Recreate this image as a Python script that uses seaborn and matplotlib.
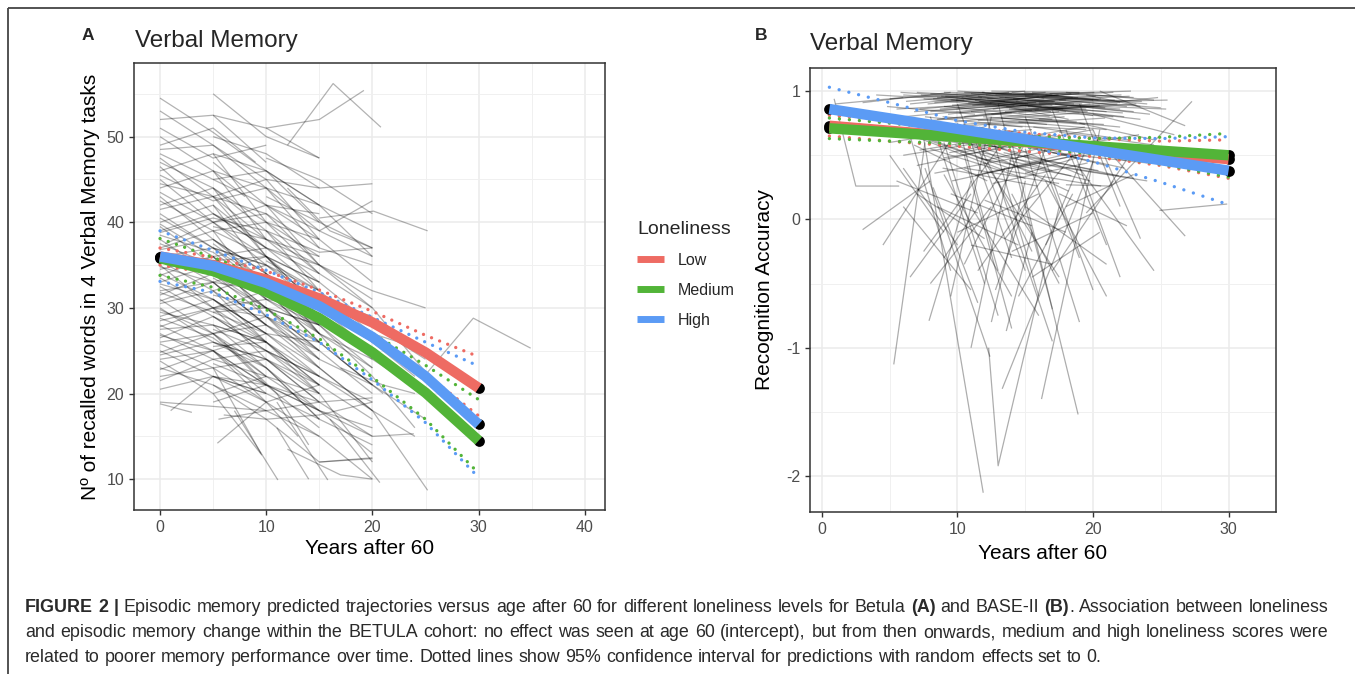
import matplotlib
matplotlib.use("Agg")
import matplotlib.pyplot as plt
from matplotlib.lines import Line2D
from matplotlib.ticker import MultipleLocator
import pandas as pd
import seaborn as sns

# ---------------- Panel A: Betula, individual trajectories (years after 60, words recalled)
betula_paths = [
    [(0, 54.5), (5, 50.5), (10, 46)], [(0, 52), (5, 52.5), (10, 47)], [(0, 49), (5, 51), (9, 47)],
    [(0, 48), (5, 45), (10, 42), (15, 38)], [(0, 47), (5, 44), (10, 36)], [(0, 46), (5, 48), (10, 40)],
    [(0, 45), (5, 40), (10, 42), (15, 35)], [(0, 44), (5, 46), (10, 38)], [(0, 43), (5, 38), (10, 33)],
    [(0, 42), (5, 44), (10, 39), (15, 32)], [(0, 41), (5, 37), (10, 35)], [(0, 40), (5, 42), (10, 34)],
    [(0, 39.5), (5, 35), (10, 30), (15, 26)], [(0, 39), (5, 41), (10, 37)], [(0, 38), (5, 34), (10, 36), (15, 30)],
    [(0, 37), (5, 39), (10, 31)], [(0, 36.5), (5, 33), (10, 28)], [(0, 36), (5, 37), (10, 32), (15, 28)],
    [(0, 35), (5, 30), (10, 32)], [(0, 34.5), (5, 36), (10, 29), (15, 24)], [(0, 34), (5, 31), (10, 27)],
    [(0, 33), (5, 35), (10, 30)], [(0, 32.5), (5, 29), (10, 25), (15, 22)], [(0, 32), (5, 33), (10, 28)],
    [(0, 31), (5, 27), (10, 29)], [(0, 30.5), (5, 32), (10, 26), (15, 20)], [(0, 30), (5, 26), (10, 24)],
    [(0, 29), (5, 31), (10, 27)], [(0, 28), (5, 25), (10, 21)], [(0, 27.5), (5, 28), (10, 23), (15, 17)],
    [(0, 27), (5, 24), (10, 25)], [(0, 26), (5, 27), (10, 22)], [(0, 25), (5, 22), (10, 19)],
    [(0, 24), (5, 25), (10, 20)], [(0, 23), (5, 21), (10, 17)], [(0, 22), (5, 23), (9.5, 13)],
    [(0, 21.5), (5, 24)], [(0, 19), (5, 18.5), (10, 18)], [(1, 18), (5, 22), (10, 20)],
    [(0, 45.5), (5, 42.5), (10, 44), (15, 37)], [(0, 50), (5, 46), (8, 43)], [(0.5, 37.5), (5, 40), (10, 35), (15, 30)],
    [(0, 35.5), (5, 32), (10, 34), (15, 27)], [(0, 33.5), (5, 30), (10, 31)], [(0, 31.5), (5, 34), (10, 32), (15, 26)],
    [(0, 29.5), (5, 28), (10, 26)], [(0, 28.5), (5, 30), (10, 24), (15, 21)], [(0, 26.5), (5, 29), (10, 26)],
    [(0, 24.5), (5, 26), (10, 23)], [(0, 40.5), (5, 37), (10, 33), (15, 31)],
    [(0, 53), (5, 49), (10, 44)], [(0, 51), (5, 47.5), (10, 49)], [(0, 47.5), (5, 43), (10, 41), (15, 35)],
    [(0, 46.5), (5, 41), (10, 37)], [(0, 44.5), (5, 43), (10, 36), (15, 33)], [(0, 43.5), (5, 40), (10, 41)],
    [(0, 42.5), (5, 39), (10, 36), (15, 29)], [(0, 41.5), (5, 43), (10, 38)], [(0, 39.8), (5, 36), (10, 37), (15, 32)],
    [(0, 38.5), (5, 36.5), (10, 32)], [(0, 37.5), (5, 35), (10, 33), (15, 27)], [(0, 36.8), (5, 38), (10, 34)],
    [(0, 35.8), (5, 34), (10, 30), (15, 25)], [(0, 34.8), (5, 33), (10, 35)], [(0, 33.8), (5, 36), (10, 31), (15, 28)],
    [(0, 32.8), (5, 31), (10, 26)], [(0, 31.8), (5, 29.5), (10, 30), (15, 24)], [(0, 30.8), (5, 33), (10, 28)],
    [(0, 29.8), (5, 27), (10, 28), (15, 23)], [(0, 28.8), (5, 26.5), (10, 22)], [(0, 27.8), (5, 30), (10, 26)],
    [(0, 26.8), (5, 25), (10, 27)], [(0, 25.8), (5, 23), (10, 24), (15, 19)], [(0, 24.8), (5, 27), (10, 21)],
    [(0, 23.8), (5, 20), (10, 22)], [(0, 22.8), (5, 25), (10, 19)], [(0, 20.5), (5, 22), (10, 21)],
    [(0, 18.8), (3, 17.8)], [(0, 48.5), (5, 49), (10, 45)], [(0, 38.8), (5, 40.5), (10, 39), (15, 34)],
    [(5, 55), (10, 50), (15, 47.5)], [(5, 52.5), (10, 51), (15, 47.5)], [(5, 50), (10, 48), (15, 44)],
    [(5, 48), (10, 46), (15, 40)], [(5, 46), (10, 44), (15, 39), (20, 36)], [(5, 44), (10, 40), (15, 36)],
    [(5, 43), (10, 45), (15, 38)], [(5, 41), (10, 38), (15, 33)], [(5, 40), (10, 36), (15, 31), (20, 27)],
    [(5, 39), (10, 40), (15, 34)], [(5, 38), (10, 34), (15, 29)], [(5, 37), (10, 35), (15, 32)],
    [(5, 36), (10, 31), (15, 27)], [(5, 35), (10, 33), (15, 28), (20, 23)], [(5, 34), (10, 29), (15, 25)],
    [(5, 33), (10, 32), (15, 26)], [(5, 32), (10, 28), (15, 24)], [(5, 31), (10, 27), (15, 22), (20, 18)],
    [(5, 30), (10, 29), (15, 23)], [(5, 29), (10, 25), (15, 20)], [(5, 28), (10, 26), (15, 21)],
    [(5, 27), (10, 23), (15, 18)], [(5, 26), (10, 24), (15, 19), (20, 15)], [(5, 25), (10, 21), (15, 16)],
    [(5, 24), (10, 22), (15, 20)], [(5, 23), (10, 19), (13, 15)], [(5, 22), (10, 20), (15, 17)],
    [(5.5, 17), (10, 18), (15, 19)], [(5.4, 14.2), (10, 19), (15, 21)], [(6, 17.5), (10, 17), (15, 17.5), (20, 19)],
    [(5, 47), (10, 42), (15, 41)], [(5, 45), (10, 46), (15, 42)], [(5, 42), (10, 37), (15, 35), (20, 30)],
    [(5, 39.5), (10, 38), (15, 36)], [(5, 37.5), (10, 33), (15, 30)], [(5, 35.5), (10, 36), (15, 30), (20, 26)],
    [(5, 33.5), (10, 30), (15, 28)], [(5, 31.5), (10, 30), (15, 25)], [(5, 29.5), (10, 27), (15, 26), (20, 21)],
    [(5, 27.5), (10, 25), (15, 22)], [(5, 25.5), (10, 26), (15, 21)], [(5, 23.5), (10, 21), (15, 18), (20, 16)],
    [(5, 21), (10, 18), (15, 15)], [(5, 19), (10, 21), (15, 18)], [(6, 26), (11, 20), (14, 14)],
    [(10, 51), (15, 52), (19.2, 55.4)], [(12, 49), (16.3, 56.2), (20.8, 51.1)], [(10, 47.5), (15, 45), (20, 41)],
    [(10, 45), (15, 44), (20, 44.5)], [(10, 43), (15, 40), (20, 37)], [(10, 42), (15, 39), (20, 42.5)],
    [(10, 40), (15, 38), (20, 33)], [(10, 39), (15, 36.5), (20, 37)], [(10, 37), (15, 34), (20, 30)],
    [(10, 36), (15, 33), (20, 28), (25, 24)], [(10, 35), (15, 31), (20, 29)], [(10, 34), (15, 30), (20, 25)],
    [(10, 33), (15, 29), (20, 24)], [(10, 30), (15, 28), (20, 22)], [(10, 28), (15, 25), (20, 20)],
    [(10, 27), (15, 23), (20, 18), (24, 15)], [(10, 25), (15, 21), (20, 17)], [(10, 24), (15, 20), (20, 12)],
    [(10, 22), (15, 18), (20, 13)], [(10, 21), (15, 19), (20, 19.5)], [(10, 19), (15, 15), (20, 10)],
    [(10, 17), (15, 12), (20, 12.5)], [(15, 12), (20, 12.4)], [(12, 13.5), (17, 10.5), (20, 10)],
    [(10, 46), (15, 42), (20, 39)], [(10, 44), (15, 42), (20, 36)], [(10, 41), (15, 37), (20, 35)],
    [(10, 38), (15, 35), (20, 31)], [(10, 35.5), (15, 32), (20, 27)], [(10, 32), (15, 27), (20, 23)],
    [(10, 29), (15, 26), (20, 21)], [(10, 26), (15, 22), (20, 19)], [(10, 23), (15, 17), (20, 14)],
    [(10, 31), (15, 30), (20, 26), (24, 22)], [(12, 44), (16, 39), (20, 37)], [(13, 30), (17, 24), (21, 20)],
    [(11, 16), (14, 10)], [(15, 40.5), (20.1, 41.3), (25.2, 39)], [(15, 35), (20, 32), (25, 30)],
    [(15, 31), (20, 27), (25, 25)], [(15, 27), (20, 24), (25, 20)], [(15, 24), (20, 21), (25, 17)],
    [(15, 23), (20, 18), (25.2, 8.7)], [(20, 30), (25, 22.5)], [(25.2, 22.5), (29.5, 28.8), (34.9, 25.3)],
    [(20, 22), (24, 16)], [(15, 18), (20, 15), (23.9, 15.3)], [(17, 23), (21, 21), (24, 20)],
    [(7, 18), (11.1, 9.9)], [(11, 19), (15.8, 9.9)], [(16, 17), (20.7, 9.6)], [(5, 20), (9.6, 12.8)],
]

years_a = [0, 5, 10, 15, 20, 25, 30]
low_a = [36.0, 35.0, 33.3, 31.1, 28.3, 24.8, 20.65]
medium_a = [35.8, 34.3, 31.9, 28.8, 24.8, 20.1, 14.5]
high_a = [36.0, 34.9, 32.9, 30.2, 26.6, 22.0, 16.4]
low_a_upper = [37.0, 35.9, 34.3, 32.1, 29.6, 26.8, 24.3]
low_a_lower = [35.0, 34.0, 32.2, 29.8, 26.5, 22.3, 17.4]
medium_a_upper = [38.1, 35.9, 33.4, 30.4, 27.0, 23.3, 19.3]
medium_a_lower = [33.8, 32.4, 29.8, 26.4, 21.9, 17.0, 10.7]
high_a_upper = [39.0, 36.7, 34.4, 31.8, 28.9, 26.0, 23.2]
high_a_lower = [33.1, 31.8, 29.2, 26.0, 21.6, 16.6, 10.2]

# ---------------- Panel B: BASE-II, individual trajectories (years after 60, recognition accuracy)
base2_paths = [
    [(6.0, 0.97), (13.5, 0.92)], [(6.5, 0.90), (14.0, 0.98)], [(7.0, 0.99), (15.0, 0.94)], [(7.2, 0.86), (14.5, 0.93)],
    [(7.5, 0.94), (15.5, 0.85)], [(8.0, 0.98), (16.0, 0.96)], [(8.0, 0.84), (15.8, 0.91)], [(8.3, 0.91), (16.5, 0.99)],
    [(8.5, 0.78), (16.0, 0.86)], [(8.8, 0.96), (17.0, 0.89)], [(9.0, 0.88), (16.8, 0.80)], [(9.0, 0.99), (17.5, 0.97)],
    [(9.3, 0.82), (17.2, 0.92)], [(9.5, 0.93), (18.0, 0.84)], [(9.8, 0.76), (17.5, 0.84)], [(10.0, 1.00), (18.5, 0.95)],
    [(10.0, 0.87), (18.0, 0.93)], [(10.3, 0.95), (18.2, 0.78)], [(10.5, 0.80), (18.5, 0.88)], [(10.8, 0.91), (19.0, 0.98)],
    [(11.0, 0.98), (19.2, 0.90)], [(11.0, 0.84), (18.8, 0.76)], [(11.3, 0.93), (19.5, 0.86)], [(11.5, 0.77), (19.0, 0.83)],
    [(11.8, 0.99), (20.0, 0.93)], [(12.0, 0.88), (20.2, 0.96)], [(12.2, 0.94), (20.0, 0.81)], [(12.5, 0.82), (20.5, 0.89)],
    [(12.8, 0.97), (21.0, 0.92)], [(13.0, 0.90), (21.0, 0.84)], [(13.2, 0.79), (20.8, 0.74)], [(13.5, 0.95), (21.5, 0.99)],
    [(13.8, 0.86), (21.5, 0.80)], [(14.0, 0.99), (22.0, 0.91)], [(14.3, 0.92), (22.0, 0.86)], [(14.5, 0.83), (21.8, 0.90)],
    [(15.0, 0.96), (22.5, 0.88)], [(15.2, 0.88), (22.3, 0.80)], [(15.5, 0.99), (23.0, 0.95)], [(16.0, 0.91), (23.0, 0.84)],
    [(16.5, 0.97), (24.0, 0.90)], [(17.0, 0.86), (23.5, 0.78)], [(17.5, 0.93), (25.0, 0.87)], [(18.0, 0.99), (24.5, 0.93)],
    [(5.0, 0.94), (12.0, 0.99)], [(5.5, 0.86), (12.5, 0.90)], [(4.0, 0.97), (10.5, 0.93)], [(3.0, 0.91), (9.5, 0.99)],
    [(6.0, 0.80), (13.0, 0.87)], [(7.0, 0.76), (14.0, 0.83)], [(9.5, 0.72), (17.0, 0.78)], [(12.0, 0.74), (19.5, 0.70)],
    [(14.5, 0.76), (21.0, 0.70)], [(8.5, 0.95), (15.0, 1.00)], [(10.5, 0.99), (17.0, 0.97)], [(12.5, 1.00), (19.0, 0.99)],
    [(11.5, 0.96), (17.8, 0.86)], [(13.5, 0.84), (19.8, 0.90)], [(16.0, 0.78), (22.0, 0.72)], [(20.5, 1.00), (26.8, 0.73)],
    [(16.0, 0.90), (25.4, 0.86)], [(0.9, 0.94), (2.5, 0.26), (5.7, 0.26)], [(1.0, 0.90), (6.0, 0.95)],
    [(6.2, 0.92), (13.8, 0.99)], [(6.8, 0.84), (14.2, 0.89)], [(7.3, 0.97), (15.2, 0.90)], [(7.8, 0.90), (15.6, 0.97)],
    [(8.2, 0.94), (16.2, 0.88)], [(8.7, 0.86), (16.4, 0.94)], [(9.1, 0.96), (17.1, 0.92)], [(9.6, 0.89), (17.4, 0.97)],
    [(10.1, 0.83), (18.1, 0.88)], [(10.6, 0.96), (18.6, 0.90)], [(11.1, 0.89), (18.9, 0.95)], [(11.6, 0.92), (19.6, 0.84)],
    [(12.1, 0.97), (20.1, 0.99)], [(12.6, 0.86), (20.6, 0.94)], [(13.1, 0.95), (20.9, 0.87)], [(13.6, 0.88), (21.6, 0.93)],
    [(14.1, 0.94), (22.1, 0.97)], [(14.6, 0.89), (22.2, 0.83)], [(15.1, 0.92), (22.7, 0.96)], [(15.7, 0.85), (23.2, 0.90)],
    [(16.2, 0.95), (23.6, 0.92)], [(17.2, 0.90), (24.2, 0.82)], [(8.9, 0.80), (16.6, 0.74)], [(10.4, 0.74), (17.9, 0.80)],
    [(11.9, 0.80), (19.4, 0.74)], [(13.4, 0.74), (20.9, 0.79)], [(7.6, 0.80), (14.8, 0.72)], [(9.9, 0.93), (16.9, 0.84)],
    [(12.4, 0.91), (18.4, 0.98)], [(14.9, 0.99), (20.4, 0.93)], [(16.8, 0.98), (22.8, 1.00)], [(18.5, 0.88), (24.8, 0.95)],
    [(5.8, 0.99), (11.8, 0.95)], [(4.8, 0.88), (11.3, 0.82)], [(19.5, 0.97), (23.5, 0.88)], [(21.0, 0.92), (25.5, 0.93)],
    [(5.0, 0.60), (12.0, 0.72)], [(5.5, 0.72), (12.5, 0.45)], [(6.0, 0.50), (13.0, 0.62)], [(6.5, 0.66), (13.5, 0.38)],
    [(7.0, 0.42), (14.0, 0.58)], [(7.5, 0.70), (14.5, 0.52)], [(8.0, 0.55), (15.0, 0.32)], [(8.3, 0.36), (15.3, 0.50)],
    [(8.7, 0.64), (15.5, 0.70)], [(9.0, 0.48), (16.0, 0.60)], [(9.3, 0.70), (16.2, 0.44)], [(9.6, 0.30), (16.5, 0.46)],
    [(10.0, 0.62), (17.0, 0.38)], [(10.2, 0.52), (17.3, 0.66)], [(10.5, 0.40), (17.5, 0.28)], [(10.8, 0.68), (18.0, 0.58)],
    [(11.0, 0.58), (18.2, 0.22)], [(11.3, 0.34), (18.5, 0.52)], [(11.6, 0.72), (18.8, 0.48)], [(12.0, 0.46), (19.0, 0.62)],
    [(12.3, 0.64), (19.3, 0.34)], [(12.6, 0.28), (19.6, 0.44)], [(13.0, 0.56), (20.0, 0.70)], [(13.3, 0.70), (20.3, 0.56)],
    [(13.6, 0.38), (20.6, 0.26)], [(14.0, 0.60), (21.0, 0.42)], [(14.3, 0.48), (21.3, 0.64)], [(14.6, 0.66), (21.6, 0.52)],
    [(15.0, 0.36), (22.0, 0.58)], [(15.3, 0.56), (22.3, 0.40)], [(15.6, 0.72), (22.6, 0.62)], [(16.0, 0.44), (23.0, 0.32)],
    [(16.5, 0.62), (23.5, 0.50)], [(17.0, 0.52), (24.0, 0.44)], [(17.5, 0.68), (24.5, 0.58)], [(18.0, 0.40), (24.0, 0.30)],
    [(7.8, 0.62), (13.8, 0.40)], [(9.8, 0.58), (15.8, 0.36)], [(11.8, 0.52), (17.8, 0.40)], [(13.8, 0.46), (19.8, 0.30)],
    [(6.8, 0.58), (12.2, 0.30)], [(18.0, 0.27), (21.2, 0.26), (23.0, 0.55)], [(19.5, 0.05), (27.3, 0.92)],
    [(21.0, 0.55), (26.8, -0.13)], [(24.9, 0.07), (29.9, 0.12)], [(19.0, 0.75), (24.5, 0.62)], [(20.0, 0.82), (26.0, 0.66)],
    [(7.2, 0.54), (14.2, 0.66)], [(8.4, 0.70), (15.4, 0.58)], [(9.4, 0.52), (16.4, 0.66)], [(10.4, 0.66), (17.4, 0.54)],
    [(11.4, 0.48), (18.4, 0.34)], [(12.4, 0.60), (19.4, 0.72)], [(13.4, 0.52), (20.4, 0.38)], [(14.4, 0.40), (21.4, 0.56)],
    [(15.4, 0.64), (22.4, 0.46)], [(16.4, 0.54), (23.4, 0.66)], [(8.9, 0.40), (15.9, 0.26)], [(11.9, 0.36), (18.9, 0.50)],
    [(14.9, 0.50), (21.9, 0.34)], [(6.4, 0.64), (13.4, 0.56)], [(17.9, 0.60), (24.9, 0.52)],
    [(3.0, -0.08), (8.0, 0.30)], [(4.5, -0.20), (10.0, 0.70)], [(5.3, -1.13), (7.6, 0.60)], [(7.4, 0.70), (11.9, -2.13)],
    [(7.6, 0.40), (12.4, -1.07)], [(12.3, -1.00), (13.0, -1.92), (17.5, 0.10)], [(7.9, -0.79), (11.0, 0.30)],
    [(11.0, -1.00), (14.0, 0.50)], [(13.6, -0.87), (15.5, -0.10)], [(13.3, -1.32), (20.0, 0.45)], [(16.2, -1.40), (20.5, 0.70)],
    [(14.0, 0.60), (18.9, -1.52)], [(9.5, -0.60), (12.5, 0.80)], [(6.0, 0.40), (10.0, -0.20)], [(8.0, 0.80), (12.0, -0.50)],
    [(10.0, 0.90), (14.0, -0.30)], [(12.0, 0.85), (16.0, -0.60)], [(9.0, 0.60), (13.0, -0.75)], [(11.0, 0.70), (15.0, -0.40)],
    [(13.0, 0.90), (17.0, -0.70)], [(15.0, 0.80), (19.0, -0.30)], [(16.0, 0.60), (20.0, -0.55)], [(17.0, 0.85), (21.0, -0.20)],
    [(18.0, 0.70), (22.0, -0.45)], [(19.0, 0.40), (24.5, -0.40)], [(20.0, 0.70), (23.5, -0.15)], [(6.5, -0.45), (11.0, 0.20)],
    [(8.5, 0.10), (14.5, -0.20)], [(10.0, -0.10), (16.0, 0.20)], [(12.0, 0.15), (18.0, -0.10)], [(14.0, -0.25), (20.0, 0.05)],
    [(7.0, 0.20), (12.0, -0.15)], [(15.0, 0.10), (21.0, -0.35)], [(11.5, -0.40), (16.5, 0.35)], [(9.0, -0.30), (13.5, 0.40)],
    [(16.5, -0.20), (19.5, 0.55)], [(13.0, 0.30), (17.0, -0.95)], [(10.5, 0.50), (14.0, -0.85)], [(12.8, -0.55), (16.8, 0.65)],
    [(8.2, 0.25), (11.5, -0.65)], [(17.5, 0.20), (22.5, -0.05)], [(5.5, 0.30), (11.5, 0.05)], [(14.5, -0.60), (18.5, 0.20)],
    [(11.5, 0.60), (15.5, -0.25)], [(19.0, 0.90), (22.0, 0.10)],
    [(6.0, 0.10), (11.0, -0.55)], [(7.5, -0.25), (13.0, 0.55)], [(9.0, 0.35), (14.0, -0.60)], [(10.5, -0.35), (15.0, 0.60)],
    [(12.0, 0.45), (17.5, -0.45)], [(13.5, -0.15), (18.5, 0.50)], [(15.0, 0.55), (19.0, -0.80)], [(16.5, 0.30), (21.0, -0.60)],
    [(8.0, -0.50), (12.5, 0.10)], [(11.0, 0.10), (16.0, -0.75)], [(14.0, 0.20), (17.5, -0.50)], [(17.0, -0.40), (21.5, 0.30)],
    [(9.5, 0.20), (15.5, -0.05)], [(12.5, -0.80), (15.0, 0.30)], [(18.0, 0.10), (23.0, 0.35)], [(10.0, 0.75), (13.0, -0.40)],
    [(6.5, 0.65), (9.5, -0.40)], [(15.5, -0.45), (20.5, -0.10)], [(11.0, -0.20), (17.0, -0.35)], [(5.0, 0.50), (9.0, -0.10)],
]

years_b = [0.55, 30]
low_b = [0.73, 0.47]
medium_b = [0.71, 0.50]
high_b = [0.86, 0.38]
years_b_ci = [0.55, 5, 10, 15, 20, 25, 30]
low_b_upper = [0.81, 0.77, 0.72, 0.67, 0.63, 0.61, 0.62]
low_b_lower = [0.65, 0.61, 0.57, 0.53, 0.49, 0.42, 0.32]
medium_b_upper = [0.79, 0.75, 0.70, 0.65, 0.63, 0.64, 0.67]
medium_b_lower = [0.63, 0.61, 0.59, 0.56, 0.51, 0.43, 0.33]
high_b_upper = [1.03, 0.91, 0.77, 0.68, 0.635, 0.63, 0.645]
high_b_lower = [0.69, 0.665, 0.64, 0.57, 0.45, 0.29, 0.115]

levels = ["Low", "Medium", "High"]
colors = ["#EE6B63", "#52B438", "#5B9BF5"]

caption_lines = [
    "*FIGURE 2 |* Episodic memory predicted trajectories versus age after 60 for different loneliness levels for Betula *(A)* and BASE-II *(B)*. Association between loneliness",
    "and episodic memory change within the BETULA cohort: no effect was seen at age 60 (intercept), but from then onwards, medium and high loneliness scores were",
    "related to poorer memory performance over time. Dotted lines show 95% confidence interval for predictions with random effects set to 0.",
]

# ---------------- style
sns.set_style("white")
plt.rcParams["font.family"] = ["Liberation Sans", "DejaVu Sans"]
plt.rcParams["axes.unicode_minus"] = False
plt.rcParams["lines.solid_capstyle"] = "butt"

W, H = 1355, 674
fig = plt.figure(figsize=(W / 100, H / 100), dpi=100)


def px_rect(left, top, right, bottom):
    return [left / W, 1 - bottom / H, (right - left) / W, (bottom - top) / H]


def paths_to_df(paths):
    rows = []
    for i, p in enumerate(paths):
        for x, y in p:
            rows.append((i, x, y))
    return pd.DataFrame(rows, columns=["id", "years", "value"])


def pred_df(years, series):
    rows = []
    for lev, vals in zip(levels, series):
        for x, y in zip(years, vals):
            rows.append((lev, x, y))
    return pd.DataFrame(rows, columns=["Loneliness", "years", "value"])


def draw_panel(ax, paths, years, series, ci_years, uppers, lowers, dot_gap, lw, alpha):
    sns.lineplot(data=paths_to_df(paths), x="years", y="value", units="id", estimator=None,
                 sort=False, color="black", alpha=alpha, linewidth=0.9, ax=ax, legend=False, zorder=2)
    for c, up, lo in zip(colors, uppers, lowers):
        for vals in (up, lo):
            ax.plot(ci_years, vals, color=c, lw=2.4, linestyle=(0, (0.01, dot_gap)),
                    dash_capstyle="round", zorder=3)
    ends_x, ends_y = [], []
    for vals in series:
        ends_x += [years[0], years[-1]]
        ends_y += [vals[0], vals[-1]]
    sns.scatterplot(x=ends_x, y=ends_y, color="black", s=60, linewidth=0, ax=ax, zorder=3.5, legend=False)
    sns.lineplot(data=pred_df(years, series), x="years", y="value", hue="Loneliness", hue_order=levels,
                 palette=colors, linewidth=lw, errorbar=None, sort=False, ax=ax, legend=False, zorder=4)


def style_axes(ax, xmaj, ymaj, xlab_y, ylab_x):
    ax.xaxis.set_major_locator(MultipleLocator(xmaj))
    ax.xaxis.set_minor_locator(MultipleLocator(xmaj / 2))
    ax.yaxis.set_major_locator(MultipleLocator(ymaj))
    ax.yaxis.set_minor_locator(MultipleLocator(ymaj / 2))
    ax.grid(True, which="major", color="#EBEBEB", lw=1.1, zorder=0)
    ax.grid(True, which="minor", color="#F0F0F0", lw=0.7, zorder=0)
    ax.set_axisbelow(True)
    for s in ax.spines.values():
        s.set_color("#333333")
        s.set_linewidth(1.1)
    ax.tick_params(which="major", length=3.5, width=1, color="#333333", labelsize=11.5,
                   labelcolor="#4D4D4D", pad=3.5, bottom=True, left=True)
    ax.tick_params(which="minor", length=0)
    ax.set_xlabel("Years after 60", fontsize=15, color="black")
    ax.xaxis.set_label_coords(0.5, xlab_y)
    ax.xaxis.label.set_verticalalignment("center")
    ax.yaxis.set_label_coords(ylab_x, 0.5)
    ax.yaxis.label.set_verticalalignment("center")


# ---------------- panel A
ax_a = fig.add_axes(px_rect(134, 63, 605, 510))
draw_panel(ax_a, betula_paths, years_a, [low_a, medium_a, high_a], years_a,
           [low_a_upper, medium_a_upper, high_a_upper], [low_a_lower, medium_a_lower, high_a_lower], 2.6, 7.5, 0.3)
ax_a.set_xlim(-2.45, 41.9)
ax_a.set_ylim(6.4, 58.6)
ax_a.set_ylabel("N\u00ba of recalled words in 4 Verbal Memory tasks", fontsize=15, color="black")
style_axes(ax_a, 10, 10, -0.087, -0.093)

# ---------------- panel B
ax_b = fig.add_axes(px_rect(810, 68, 1276, 512))
draw_panel(ax_b, base2_paths, years_b, [low_b, medium_b, high_b], years_b_ci,
           [low_b_upper, medium_b_upper, high_b_upper], [low_b_lower, medium_b_lower, high_b_lower], 3.0, 7.5, 0.32)
ax_b.set_xlim(-0.88, 33.5)
ax_b.set_ylim(-2.28, 1.18)
ax_b.set_ylabel("Recognition Accuracy", fontsize=15, color="black")
style_axes(ax_b, 10, 1, -0.0935, -0.0966)

# ---------------- titles
fig.text(88 / W, 1 - 40 / H, "A", fontsize=12.5, fontweight="bold", ha="center", va="baseline")
fig.text(135 / W, 1 - 47 / H, "Verbal Memory", fontsize=17.5, ha="left", va="baseline")
fig.text(761 / W, 1 - 40 / H, "B", fontsize=12.5, fontweight="bold", ha="center", va="baseline")
fig.text(810 / W, 1 - 50 / H, "Verbal Memory", fontsize=17.5, ha="left", va="baseline")

# ---------------- legend
handles = [Line2D([], [], color=c, lw=5) for c in colors]
fig.legend(handles, levels, title="Loneliness", loc="upper left", bbox_to_anchor=(637 / W, 1 - 221 / H),
           frameon=False, fontsize=11.5, title_fontsize=14, borderpad=0, borderaxespad=0,
           handlelength=1.7, handletextpad=0.87, labelspacing=0.94, alignment="left")

# ---------------- outer frame
fig.add_artist(Line2D([8 / W, 1], [1 - 8 / H, 1 - 8 / H], transform=fig.transFigure, color="#444444", lw=1.3))
fig.add_artist(Line2D([8 / W, 8 / W], [0, 1 - 8 / H], transform=fig.transFigure, color="#444444", lw=1.3))

# ---------------- caption
renderer = fig.canvas.get_renderer()


def parse(line):
    words, bold = [], False
    for raw in line.split(" "):
        pieces = []
        for k, part in enumerate(raw.split("*")):
            if k > 0:
                bold = not bold
            if part:
                pieces.append((part, "bold" if bold else "normal"))
        words.append(pieces)
    return words


def tw(s, weight, size):
    t = fig.text(0, 0, s + "|", fontsize=size, fontweight=weight)
    w = t.get_window_extent(renderer).width
    t.set_text("|")
    w -= t.get_window_extent(renderer).width
    t.remove()
    return w


def natural(words, size):
    ww = [sum(tw(p, wt, size) for p, wt in w) for w in words]
    return ww, sum(ww) + tw(" ", "normal", size) * (len(words) - 1)


cap_color = "#2A2A2A"
parsed = [parse(l) for l in caption_lines]
_, w0 = natural(parsed[0], 10)
cap_size = 10 * 1303 / w0
for i, (words, base) in enumerate(zip(parsed, [612, 637, 662])):
    ww, nat = natural(words, cap_size)
    gap = tw(" ", "normal", cap_size)
    if i < 2:
        gap = (1303 - sum(ww)) / (len(words) - 1)
    x = 25.0
    for w, wwid in zip(words, ww):
        xx = x
        for p, wt in w:
            fig.text(xx / W, 1 - base / H, p, fontsize=cap_size, fontweight=wt, color=cap_color,
                     ha="left", va="baseline")
            xx += tw(p, wt, cap_size)
        x += wwid + gap

fig.savefig("out.png", dpi=100)
